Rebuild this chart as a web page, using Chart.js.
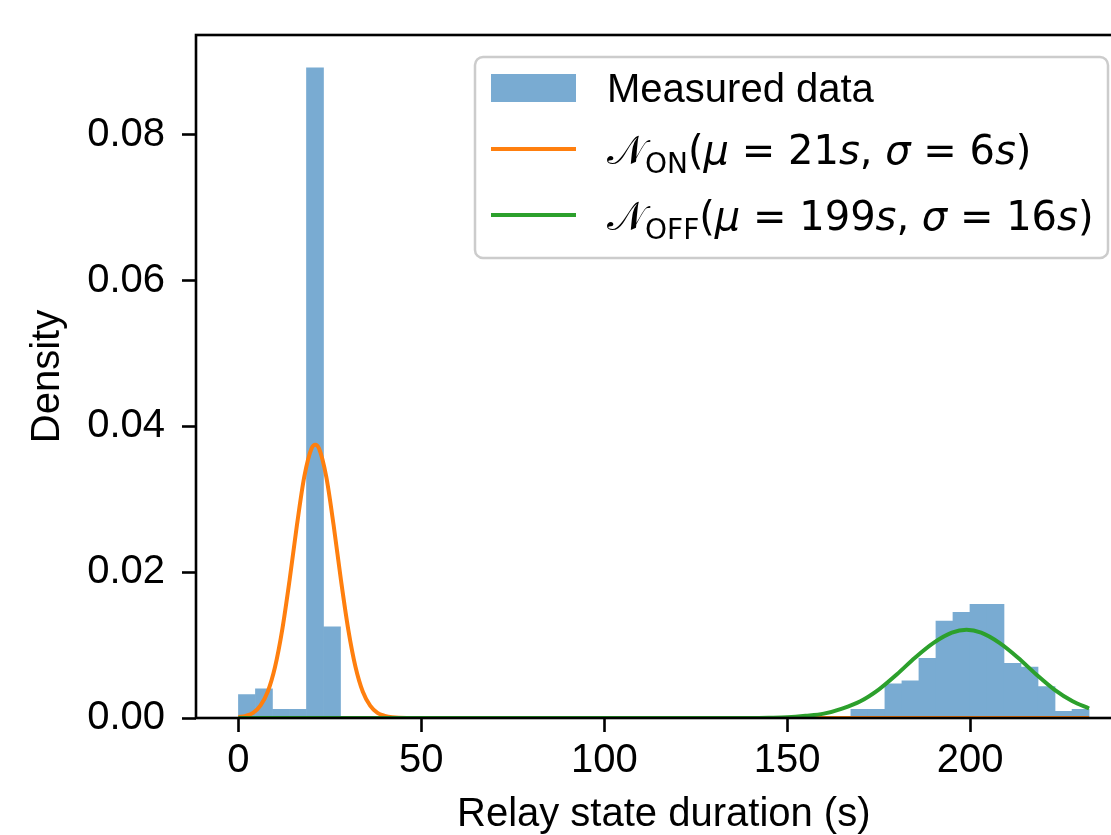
<!DOCTYPE html>
<html>
<head>
<meta charset="utf-8">
<script src="https://cdn.jsdelivr.net/npm/chart.js@4.4.1/dist/chart.umd.min.js"></script>
<style>
  html, body { margin: 0; padding: 0; background: #fff; overflow: hidden; }
  #wrap { position: relative; width: 1150px; height: 835px; }
</style>
</head>
<body>
<div id="wrap"><canvas id="chart"></canvas></div>
<script>
// histogram: 50 bins of equal width starting at 0 s
const binStart = 0;
const binWidth = 4.65;
const density = [
  0.0032, 0.0040, 0.0012, 0.0012, 0.0892, 0.0125, 0, 0, 0, 0,
  0, 0, 0, 0, 0, 0, 0, 0, 0, 0,
  0, 0, 0, 0, 0, 0, 0, 0, 0, 0,
  0, 0, 0, 0, 0, 0, 0.0012, 0.0012, 0.0047, 0.0051,
  0.0082, 0.0133, 0.0145, 0.0156, 0.0156, 0.0075, 0.0070, 0.0043, 0.0009, 0.0012
];

// fitted curves
const onX = [0, 2, 4, 6, 8, 10, 12, 14, 16, 18, 20, 21, 22, 24, 26, 28, 30, 32, 34, 36, 38, 40, 42, 46, 100, 232.5];
const onY = [0.0001, 0.0003, 0.0007, 0.0017, 0.0036, 0.0070, 0.0122, 0.0190, 0.0265, 0.0331, 0.0370, 0.0375,
             0.0370, 0.0331, 0.0265, 0.0190, 0.0122, 0.0070, 0.0036, 0.0017, 0.0007, 0.0003, 0.0001, 0, 0, 0];
const offX = [0, 100, 140, 145, 150, 155, 160, 165, 170, 175, 180, 185, 190, 195, 199, 203, 208, 213, 218, 223, 228, 232.5];
const offY = [0, 0, 0.00001, 0.00004, 0.0001, 0.0003, 0.0006, 0.0013, 0.0023, 0.0039, 0.0060, 0.0083, 0.0103,
              0.0117, 0.0121, 0.0117, 0.0103, 0.0083, 0.0060, 0.0039, 0.0023, 0.0013];

const xTicks = [0, 50, 100, 150, 200];
const yTicks = [0, 0.02, 0.04, 0.06, 0.08];

const labelMeasured = 'Measured data';
const labelOn = '\u{1D4A9}ON(\u03BC = 21s, \u03C3 = 6s)';
const labelOff = '\u{1D4A9}OFF(\u03BC = 199s, \u03C3 = 16s)';

const BLUE = 'rgb(121,171,210)';
const ORANGE = '#ff7f0e';
const GREEN = '#2ca02c';
const SANS = '"Liberation Sans", Arial, sans-serif';
const MATH = '"DejaVu Sans", sans-serif';

const bars = density.map((d, i) => ({ x: binStart + binWidth * (i + 0.5), y: d }));
const onPts = onX.map((x, i) => ({ x: x, y: onY[i] }));
const offPts = offX.map((x, i) => ({ x: x, y: offY[i] }));

// math label split into pieces: [text, style]
function mathPieces(sub, mu, sigma) {
  return [
    ['\u{1D4A9}', 'rm'], [sub, 'sub'], ['(', 'rm'], ['\u03BC', 'it'], [' = ', 'rm'], [mu, 'rm'], ['s', 'it'],
    [', ', 'rm'], ['\u03C3', 'it'], [' = ', 'rm'], [sigma, 'rm'], ['s', 'it'], [')', 'rm']
  ];
}
const pieceFont = {
  rm: '40px ' + MATH,
  it: 'italic 40px ' + MATH,
  sub: '28px ' + MATH
};

function drawMath(ctx, pieces, x, baseline) {
  ctx.textBaseline = 'alphabetic';
  ctx.textAlign = 'left';
  for (const [t, s] of pieces) {
    ctx.font = pieceFont[s];
    ctx.fillText(t, x, s === 'sub' ? baseline + 9 : baseline);
    x += ctx.measureText(t).width;
  }
}

const framePlugin = {
  id: 'frame',
  afterDatasetsDraw(chart) {
    const { ctx, chartArea: a } = chart;
    ctx.save();
    ctx.strokeStyle = '#000';
    ctx.lineWidth = 2.6;
    ctx.strokeRect(a.left, a.top, a.right - a.left, a.bottom - a.top);
    ctx.restore();
  }
};

const legendPlugin = {
  id: 'mplLegend',
  afterDraw(chart) {
    const ctx = chart.ctx;
    ctx.save();
    ctx.beginPath();
    ctx.roundRect(475, 57, 633, 201, 8);
    ctx.fillStyle = 'rgba(255,255,255,0.8)';
    ctx.fill();
    ctx.strokeStyle = '#cccccc';
    ctx.lineWidth = 2.5;
    ctx.stroke();

    ctx.fillStyle = BLUE;
    ctx.fillRect(491, 74, 85, 28);
    ctx.fillStyle = '#000';
    ctx.font = '40px ' + SANS;
    ctx.textBaseline = 'alphabetic';
    ctx.fillText(labelMeasured, 607, 102);

    ctx.lineWidth = 4;
    ctx.strokeStyle = ORANGE;
    ctx.beginPath(); ctx.moveTo(491, 149); ctx.lineTo(576, 149); ctx.stroke();
    ctx.strokeStyle = GREEN;
    ctx.beginPath(); ctx.moveTo(491, 215); ctx.lineTo(576, 215); ctx.stroke();

    ctx.fillStyle = '#000';
    drawMath(ctx, mathPieces('ON', '21', '6'), 607, 164);
    drawMath(ctx, mathPieces('OFF', '199', '16'), 607, 230);
    ctx.restore();
  }
};

const tickGrid = {
  offset: false,
  drawOnChartArea: false,
  drawTicks: true,
  tickLength: 14,
  tickWidth: 2.6,
  tickColor: '#000'
};

new Chart(document.getElementById('chart'), {
  type: 'bar',
  data: {
    datasets: [
      {
        type: 'line',
        label: labelOff,
        data: offPts,
        borderColor: GREEN,
        borderWidth: 4,
        pointRadius: 0,
        cubicInterpolationMode: 'monotone',
        order: 0
      },
      {
        type: 'line',
        label: labelOn,
        data: onPts,
        borderColor: ORANGE,
        borderWidth: 4,
        pointRadius: 0,
        cubicInterpolationMode: 'monotone',
        order: 1
      },
      {
        label: labelMeasured,
        data: bars,
        backgroundColor: BLUE,
        borderWidth: 0,
        barPercentage: 1,
        categoryPercentage: 1,
        grouped: false,
        order: 2
      }
    ]
  },
  options: {
    responsive: true,
    maintainAspectRatio: false,
    animation: false,
    layout: { padding: { top: 35, right: 18.5, bottom: 0, left: 0 } },
    plugins: {
      legend: { display: false },
      tooltip: { enabled: false }
    },
    scales: {
      x: {
        type: 'linear',
        min: -11.6,
        max: 244.1,
        offset: false,
        afterBuildTicks: s => { s.ticks = xTicks.map(v => ({ value: v })); },
        afterFit: s => { s.height = 117; s.paddingLeft = 0; s.paddingRight = 0; },
        ticks: {
          color: '#000',
          font: { family: SANS, size: 40 },
          padding: 5,
          maxRotation: 0,
          autoSkip: false,
          callback: v => String(v)
        },
        grid: tickGrid,
        border: { display: false },
        title: {
          display: true,
          text: 'Relay state duration (s)',
          color: '#000',
          font: { family: SANS, size: 40, lineHeight: 1 },
          padding: { top: 0, bottom: 0 }
        }
      },
      y: {
        min: 0,
        max: 0.0937,
        afterBuildTicks: s => { s.ticks = yTicks.map(v => ({ value: v })); },
        afterFit: s => { s.width = 196; s.paddingTop = 0; s.paddingBottom = 0; },
        ticks: {
          color: '#000',
          font: { family: SANS, size: 40 },
          padding: 17,
          callback: v => v.toFixed(2)
        },
        grid: tickGrid,
        border: { display: false },
        title: {
          display: true,
          text: 'Density',
          color: '#000',
          font: { family: SANS, size: 40 },
          padding: { top: 24, bottom: 0 }
        }
      }
    }
  },
  plugins: [framePlugin, legendPlugin]
});
</script>
</body>
</html>
